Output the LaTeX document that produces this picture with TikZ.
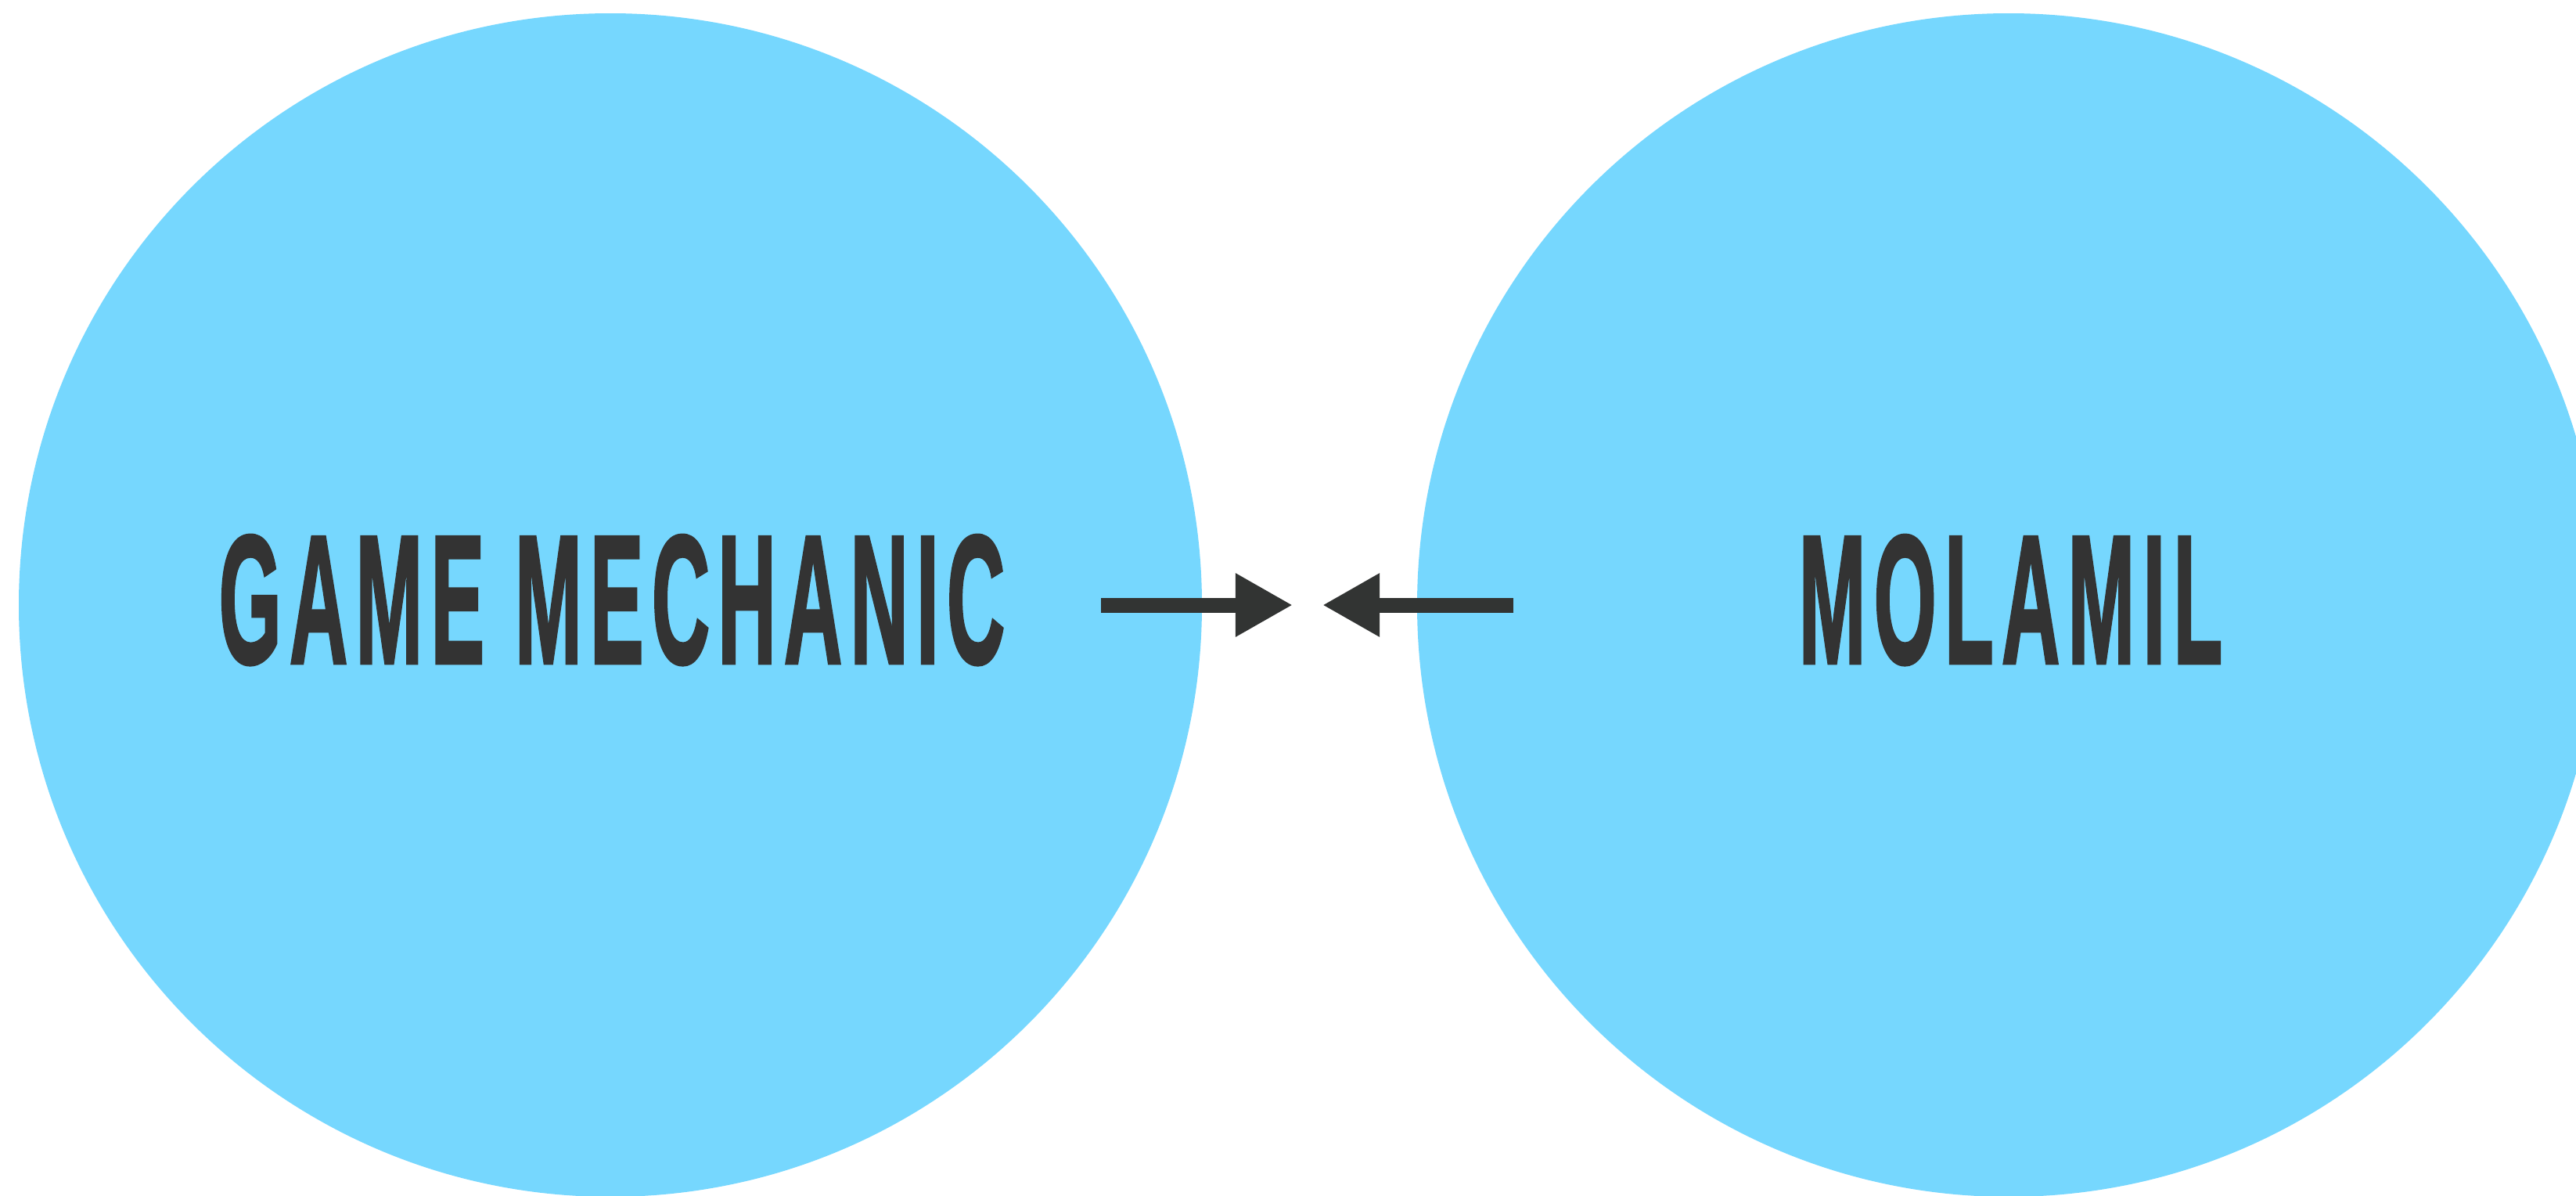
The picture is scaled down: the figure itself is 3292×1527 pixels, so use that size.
\documentclass[tikz,border=0pt]{standalone}
\usepackage{fontspec}
\usetikzlibrary{arrows.meta}
\newfontfamily\headfont{Liberation Sans}[BoldFeatures={FakeBold=2}, LetterSpace=10]
\definecolor{bubble}{HTML}{76D7FE}
\definecolor{ink}{HTML}{333333}
\definecolor{arrowink}{HTML}{323433}
\tikzset{
  bubble/.style={fill=bubble, draw=none},
  title/.style={anchor=base west, inner sep=0pt, text=ink},
  push/.style={draw=arrowink, line width=0.19cm, line cap=butt,
    -{Triangle[length=0.73cm, width=0.76cm]}}
}
\begin{document}
\begin{tikzpicture}[x=0.01cm, y=-0.01cm]
  % page frame, 3292 x 1527 units, origin at the top left
  \useasboundingbox (0,0) rectangle (3292,1527);
  \fill[white] (0,0) rectangle (3292,1527);

  % the two large discs
  \begin{scope}
    \clip (0,0) rectangle (3292,1527);
    \fill[bubble] (780,773) circle[radius=756];
    \fill[bubble] (2567,773) circle[radius=756];
  \end{scope}

  % labels
  \node[title] (mech) at (279,847)
    {\resizebox{10.04cm}{1.63cm}{\headfont\bfseries GAME MECHANIC}};
  \node[title] (mola) at (2298,847)
    {\resizebox{5.41cm}{1.63cm}{\headfont\bfseries MOLAMIL}};

  % arrows pointing at each other
  \coordinate (la) at (1407,773);
  \coordinate (lb) at (1652,773);
  \coordinate (ra) at (1934,773);
  \coordinate (rb) at (1690,773);
  \draw[push] (la) -- (lb);
  \draw[push] (ra) -- (rb);
\end{tikzpicture}
\end{document}
